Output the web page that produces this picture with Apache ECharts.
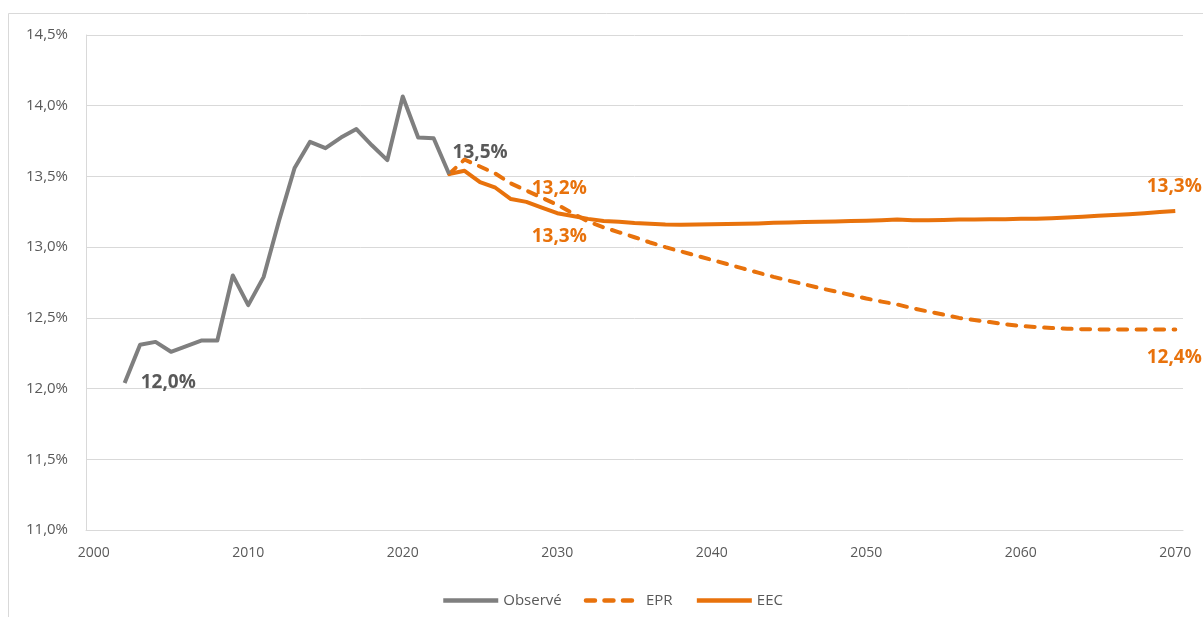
<!DOCTYPE html>
<html>
<head>
<meta charset="utf-8">
<script src="https://cdn.jsdelivr.net/npm/echarts@6/dist/echarts.min.js"></script>
<style>
  html, body { margin: 0; padding: 0; background: #fff; }
  #chart { width: 1203px; height: 617px; }
</style>
</head>
<body>
<div id="chart"></div>
<script>
// Years on the horizontal axis
const years = [];
for (let y = 2000; y <= 2070; y++) years.push(String(y));

// Observed rate, 2002-2023
const observedStart = 2002;
const observed = [12.04, 12.31, 12.33, 12.26, 12.30, 12.34, 12.34, 12.80, 12.59, 12.79,
  13.19, 13.56, 13.745, 13.70, 13.775, 13.835, 13.72, 13.615, 14.065, 13.775,
  13.77, 13.517];

// Projections, 2023-2070
const projStart = 2023;
const epr = [13.517, 13.62, 13.57, 13.52, 13.45, 13.40, 13.35, 13.30, 13.24, 13.18,
  13.14, 13.105, 13.07, 13.033, 13.00, 12.97, 12.94, 12.91, 12.88, 12.85,
  12.82, 12.79, 12.763, 12.737, 12.71, 12.687, 12.662, 12.637, 12.615, 12.595,
  12.568, 12.545, 12.523, 12.50, 12.485, 12.47, 12.455, 12.443, 12.435, 12.428,
  12.423, 12.42, 12.418, 12.418, 12.418, 12.418, 12.418, 12.418];
const eec = [13.517, 13.54, 13.46, 13.42, 13.34, 13.32, 13.28, 13.24, 13.22, 13.20,
  13.185, 13.18, 13.17, 13.165, 13.16, 13.158, 13.16, 13.162, 13.164, 13.166,
  13.168, 13.172, 13.175, 13.178, 13.18, 13.182, 13.185, 13.187, 13.19, 13.195,
  13.19, 13.19, 13.192, 13.195, 13.196, 13.197, 13.198, 13.20, 13.20, 13.205,
  13.21, 13.215, 13.222, 13.227, 13.233, 13.24, 13.248, 13.256];

// Y axis ticks
const yMin = 11.0, yMax = 14.5, yStep = 0.5;

// Which points carry a value label
const observedLabels = [2002, 2023];
const eprLabels = [2030, 2070];
const eecLabels = [2030, 2070];

const GREY = '#7f7f7f';
const ORANGE = '#e8720c';
const TEXT = '#595959';

const fmt = v => v.toFixed(1).replace('.', ',') + '%';

function buildSeriesData(values, start, labelYears, labelStyles) {
  return years.map(y => {
    const yr = Number(y);
    const i = yr - start;
    if (i < 0 || i >= values.length) return null;
    const k = labelYears.indexOf(yr);
    if (k < 0) return values[i];
    return {
      value: values[i],
      symbol: 'circle',
      symbolSize: 0.1,
      label: Object.assign({ show: true, formatter: p => fmt(p.value) }, labelStyles[k])
    };
  });
}

const labelFont = { fontFamily: 'Open Sans', fontWeight: 'bold', fontSize: 19 };

const observedData = buildSeriesData(observed, observedStart, observedLabels, [
  Object.assign({ position: 'right', distance: 16, color: TEXT }, labelFont),
  Object.assign({ position: 'top', distance: 12, offset: [31, 0], color: TEXT }, labelFont)
]);
const eprData = buildSeriesData(epr, projStart, eprLabels, [
  Object.assign({ position: 'bottom', distance: 22, offset: [2, 0], color: ORANGE }, labelFont),
  Object.assign({ position: 'bottom', distance: 19, offset: [-1, 0], color: ORANGE }, labelFont)
]);
const eecData = buildSeriesData(eec, projStart, eecLabels, [
  Object.assign({ position: 'top', distance: 15, offset: [2, 0], color: ORANGE }, labelFont),
  Object.assign({ position: 'top', distance: 15, offset: [-1, 0], color: ORANGE }, labelFont)
]);

const chart = echarts.init(document.getElementById('chart'), null, { renderer: 'canvas' });

chart.setOption({
  animation: false,
  backgroundColor: '#ffffff',
  textStyle: { fontFamily: 'Open Sans' },
  graphic: [{
    type: 'rect',
    shape: { x: 8.5, y: 13.5, width: 1300, height: 700 },
    style: { fill: 'none', stroke: '#d9d9d9', lineWidth: 1 },
    silent: true,
    z: -10
  }],
  grid: { left: 86, right: 20, top: 35, bottom: 87, containLabel: false },
  legend: {
    left: 436,
    top: 588,
    itemWidth: 55,
    itemHeight: 14,
    itemGap: 22,
    itemStyle: { color: 'rgba(0,0,0,0)', borderWidth: 0, opacity: 0 },
    lineStyle: { width: 4.5 },
    textStyle: { color: TEXT, fontSize: 15, fontFamily: 'Open Sans' },
    data: ['Observé', 'EPR', 'EEC']
  },
  xAxis: {
    type: 'category',
    data: years,
    boundaryGap: true,
    axisLine: { show: true, lineStyle: { color: '#d9d9d9', width: 1 } },
    axisTick: { show: false },
    axisLabel: {
      interval: (idx, val) => Number(val) % 10 === 0,
      color: TEXT,
      fontSize: 14,
      fontFamily: 'Open Sans',
      margin: 16
    },
    splitLine: { show: false }
  },
  yAxis: {
    type: 'value',
    min: yMin,
    max: yMax,
    interval: yStep,
    axisLine: { show: true, lineStyle: { color: '#d9d9d9', width: 1 } },
    axisTick: { show: false },
    axisLabel: {
      formatter: v => v.toFixed(1).replace('.', ',') + '%',
      color: TEXT,
      fontSize: 15,
      fontFamily: 'Open Sans',
      margin: 18
    },
    splitLine: { show: true, lineStyle: { color: '#d9d9d9', width: 1 } }
  },
  series: [
    {
      name: 'Observé',
      type: 'line',
      data: observedData,
      symbol: 'none',
      showAllSymbol: true,
      connectNulls: false,
      lineStyle: { color: GREY, width: 4, join: 'round' },
      itemStyle: { color: GREY },
      z: 3
    },
    {
      name: 'EPR',
      type: 'line',
      data: eprData,
      symbol: 'none',
      showAllSymbol: true,
      lineStyle: { color: ORANGE, width: 4, type: [9, 9.5], cap: 'round', join: 'round' },
      itemStyle: { color: ORANGE },
      z: 2
    },
    {
      name: 'EEC',
      type: 'line',
      data: eecData,
      symbol: 'none',
      showAllSymbol: true,
      lineStyle: { color: ORANGE, width: 4, join: 'round' },
      itemStyle: { color: ORANGE },
      z: 2
    }
  ]
});
</script>
</body>
</html>
